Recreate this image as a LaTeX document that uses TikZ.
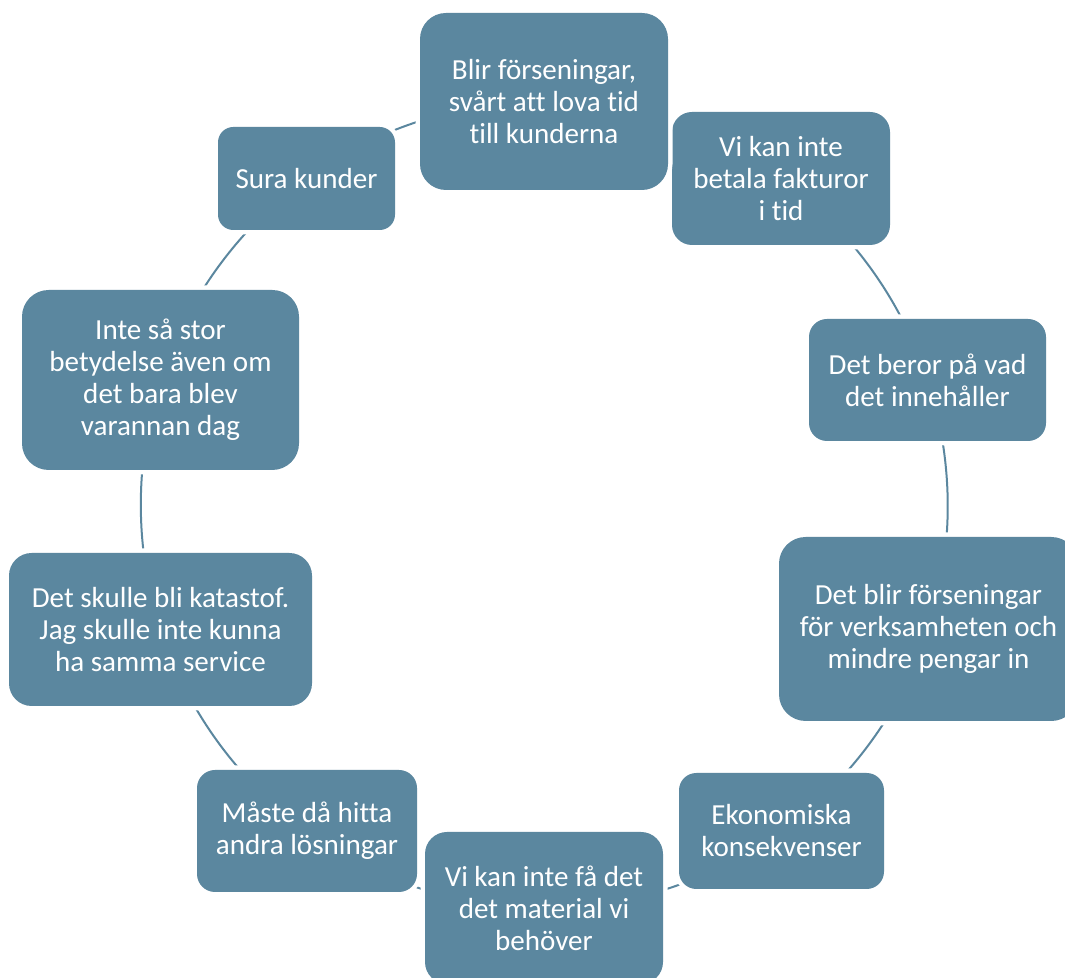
\documentclass[tikz,border=0pt]{standalone}
\usepackage{fontspec}
\setmainfont{Carlito}[Ligatures=NoCommon]
\usetikzlibrary{backgrounds}
\definecolor{boxc}{HTML}{5B879F}
\begin{document}
\begin{tikzpicture}[x=0.75pt,y=0.75pt,
  box/.style={fill=boxc, text=white, align=center, inner sep=0pt, outer sep=0pt,
    font=\fontsize{21.8}{24}\selectfont,
    preaction={draw=white, line width=6.75pt}},
  conn/.style={draw=boxc, line width=1.5pt, bend left=18, looseness=0.873}]
\useasboundingbox (0,0) rectangle (1065,978);
\clip (0,0) rectangle (1065,978);
\node[box, minimum width=163.5pt, minimum height=99.75pt, rounded corners=15pt] (n2) at (781,799.5) {Vi kan inte\\betala fakturor\\i tid};
\node[box, minimum width=186pt, minimum height=132.75pt, rounded corners=19.5pt] (n1) at (544,876.5) {Blir förseningar,\\svårt att lova tid\\till kunderna};
\node[box, minimum width=177.75pt, minimum height=91.5pt, rounded corners=13.5pt] (n3) at (927.5,598) {Det beror på vad\\det innehåller};
\node[box, minimum width=224.25pt, minimum height=138pt, rounded corners=20pt] (n4) at (928.5,349) {Det blir förseningar\\för verksamheten och\\mindre pengar in};
\node[box, minimum width=153.75pt, minimum height=87pt, rounded corners=13pt] (n5) at (781.5,147) {Ekonomiska\\konsekvenser};
\node[box, minimum width=178.5pt, minimum height=114pt, rounded corners=16.5pt] (n6) at (544,70) {Vi kan inte få det\\det material vi\\behöver};
\node[box, minimum width=165pt, minimum height=91.5pt, rounded corners=13.5pt] (n7) at (307,147) {Måste då hitta\\andra lösningar};
\node[box, minimum width=227.25pt, minimum height=114.75pt, rounded corners=17pt] (n8) at (160.5,348.5) {Det skulle bli katastof.\\Jag skulle inte kunna\\ha samma service};
\node[box, minimum width=207.75pt, minimum height=135pt, rounded corners=20pt] (n9) at (160.5,598) {Inte så stor\\betydelse även om\\det bara blev\\varannan dag};
\node[box, minimum width=132.75pt, minimum height=77.25pt, rounded corners=11.5pt] (n10) at (306.5,799.5) {Sura kunder};
\begin{scope}[on background layer]
\draw[conn] (n2.center) to (n3.center);
\draw[conn] (n3.center) to (n4.center);
\draw[conn] (n4.center) to (n5.center);
\draw[conn] (n5.center) to (n6.center);
\draw[conn] (n6.center) to (n7.center);
\draw[conn] (n7.center) to (n8.center);
\draw[conn] (n8.center) to (n9.center);
\draw[conn] (n9.center) to (n10.center);
\draw[conn] (n10.center) to (n1.center);
\end{scope}
\end{tikzpicture}
\end{document}
